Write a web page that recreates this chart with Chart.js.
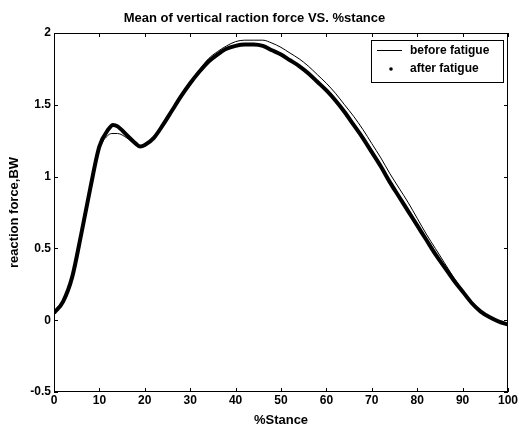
<!DOCTYPE html>
<html>
<head>
<meta charset="utf-8">
<script src="https://cdn.jsdelivr.net/npm/chart.js@4/dist/chart.umd.min.js"></script>
<style>
  body { margin: 0; background: #fff; }
  canvas { display: block; }
</style>
</head>
<body>
<canvas id="myChart" width="519" height="428"></canvas>
<script>
// data
var stance = [0, 2, 4, 6, 8, 10, 12, 13, 14, 16, 18, 19, 20, 22, 24, 26, 28, 30, 32, 34, 36, 38, 40,
	42, 44, 46, 48, 50, 52, 54, 56, 58, 60, 62, 64, 66, 68, 70, 72, 74, 76, 78, 80,
	82, 84, 86, 88, 90, 92, 94, 96, 98, 100];
var beforeFatigue = [0.05, 0.13, 0.30, 0.58, 0.90, 1.19, 1.29, 1.30, 1.30, 1.27, 1.22, 1.21, 1.22, 1.27, 1.36, 1.46, 1.57, 1.66, 1.74, 1.82, 1.87, 1.91, 1.94,
	1.95, 1.95, 1.95, 1.93, 1.90, 1.86, 1.82, 1.77, 1.71, 1.65, 1.58, 1.50, 1.42, 1.33, 1.23, 1.13, 1.02, 0.92, 0.82, 0.71,
	0.60, 0.50, 0.40, 0.30, 0.21, 0.13, 0.07, 0.02, -0.01, -0.03];
var afterFatigue = [0.05, 0.13, 0.30, 0.60, 0.92, 1.21, 1.33, 1.36, 1.35, 1.29, 1.23, 1.21, 1.22, 1.27, 1.36, 1.46, 1.56, 1.65, 1.73, 1.80, 1.85, 1.89, 1.91,
	1.92, 1.92, 1.91, 1.88, 1.85, 1.81, 1.77, 1.72, 1.66, 1.60, 1.53, 1.45, 1.36, 1.27, 1.17, 1.07, 0.96, 0.86, 0.76, 0.66,
	0.56, 0.46, 0.37, 0.28, 0.20, 0.12, 0.06, 0.02, -0.01, -0.03];
var xTicks = [0, 10, 20, 30, 40, 50, 60, 70, 80, 90, 100];
var yTicks = [-0.5, 0, 0.5, 1, 1.5, 2];

function toPoints(xs, ys) {
	return xs.map(function (x, i) { return { x: x, y: ys[i] }; });
}

Chart.defaults.font.family = '"Liberation Sans", Arial, sans-serif';
Chart.defaults.color = '#000';

// box round the axes with inward ticks, matlab style
var frame = {
	id: 'frame',
	afterDraw: function (chart) {
		var ctx = chart.ctx, a = chart.chartArea;
		var x = chart.scales.x, y = chart.scales.y;
		ctx.save();
		ctx.strokeStyle = '#000';
		ctx.lineWidth = 1;
		ctx.strokeRect(a.left + 0.5, a.top + 0.5, a.right - a.left - 1, a.bottom - a.top - 1);
		ctx.beginPath();
		xTicks.forEach(function (v) {
			var px = Math.round(x.getPixelForValue(v)) + 0.5;
			ctx.moveTo(px, a.bottom); ctx.lineTo(px, a.bottom - 4);
			ctx.moveTo(px, a.top); ctx.lineTo(px, a.top + 4);
		});
		yTicks.forEach(function (v) {
			var py = Math.round(y.getPixelForValue(v)) + 0.5;
			ctx.moveTo(a.left, py); ctx.lineTo(a.left + 4, py);
			ctx.moveTo(a.right, py); ctx.lineTo(a.right - 4, py);
		});
		ctx.stroke();
		ctx.restore();
	}
};

// legend box in the top right corner
var boxLegend = {
	id: 'boxLegend',
	afterDraw: function (chart) {
		var ctx = chart.ctx, a = chart.chartArea;
		var ds = chart.data.datasets;
		var w = 132, h = 42;
		var left = a.right - 5 - w, top = a.top + 7;
		ctx.save();
		ctx.fillStyle = '#fff';
		ctx.fillRect(left, top, w, h);
		ctx.strokeStyle = '#000';
		ctx.lineWidth = 1;
		ctx.strokeRect(left + 0.5, top + 0.5, w, h);
		ctx.font = 'bold 12px "Liberation Sans", Arial, sans-serif';
		ctx.textBaseline = 'middle';
		ctx.fillStyle = '#000';
		// before fatigue: thin line
		ctx.beginPath();
		ctx.moveTo(left + 6, top + 10.5); ctx.lineTo(left + 31, top + 10.5);
		ctx.stroke();
		ctx.fillText(ds[1].label, left + 39, top + 11);
		// after fatigue: dot
		ctx.beginPath();
		ctx.arc(left + 20, top + 29, 1.8, 0, Math.PI * 2);
		ctx.fill();
		ctx.fillText(ds[0].label, left + 39, top + 29);
		ctx.restore();
	}
};

var ctx = document.getElementById('myChart').getContext('2d');
var chart = new Chart(ctx, {
	type: 'line',
	data: {
		datasets: [{
			label: 'after fatigue',
			data: toPoints(stance, afterFatigue),
			borderColor: '#000',
			borderWidth: 4,
			pointRadius: 0,
			cubicInterpolationMode: 'monotone'
		}, {
			label: 'before fatigue',
			data: toPoints(stance, beforeFatigue),
			borderColor: '#000',
			borderWidth: 1,
			pointRadius: 0,
			cubicInterpolationMode: 'monotone'
		}]
	},
	options: {
		responsive: false,
		animation: false,
		layout: { padding: { left: 0, right: 10, top: 0, bottom: 0 } },
		plugins: {
			legend: { display: false },
			tooltip: { enabled: false },
			title: {
				display: true,
				text: 'Mean of vertical raction force VS. %stance',
				font: { size: 13, weight: 'bold', lineHeight: '15px' },
				padding: { top: 11, bottom: 7 }
			}
		},
		scales: {
			x: {
				type: 'linear',
				min: 0,
				max: 100,
				afterFit: function (scale) { scale.height = 36; },
				afterBuildTicks: function (scale) { scale.ticks = xTicks.map(function (v) { return { value: v }; }); },
				grid: { display: false, drawTicks: false },
				border: { display: false },
				ticks: { padding: 1, font: { size: 12, weight: 'bold' }, maxRotation: 0 },
				title: {
					display: true,
					text: '%Stance',
					font: { size: 13, weight: 'bold' },
					padding: { top: 0, bottom: 0 }
				}
			},
			y: {
				min: -0.5,
				max: 2,
				afterFit: function (scale) { scale.width = 54; },
				afterBuildTicks: function (scale) { scale.ticks = yTicks.map(function (v) { return { value: v }; }); },
				grid: { display: false, drawTicks: false },
				border: { display: false },
				ticks: { padding: 3, font: { size: 12, weight: 'bold' }, callback: function (v) { return String(v); } },
				title: {
					display: true,
					text: 'reaction force,BW',
					font: { size: 13, weight: 'bold' },
					padding: { top: 7, bottom: 0 }
				}
			}
		}
	},
	plugins: [frame, boxLegend]
});
</script>
</body>
</html>
